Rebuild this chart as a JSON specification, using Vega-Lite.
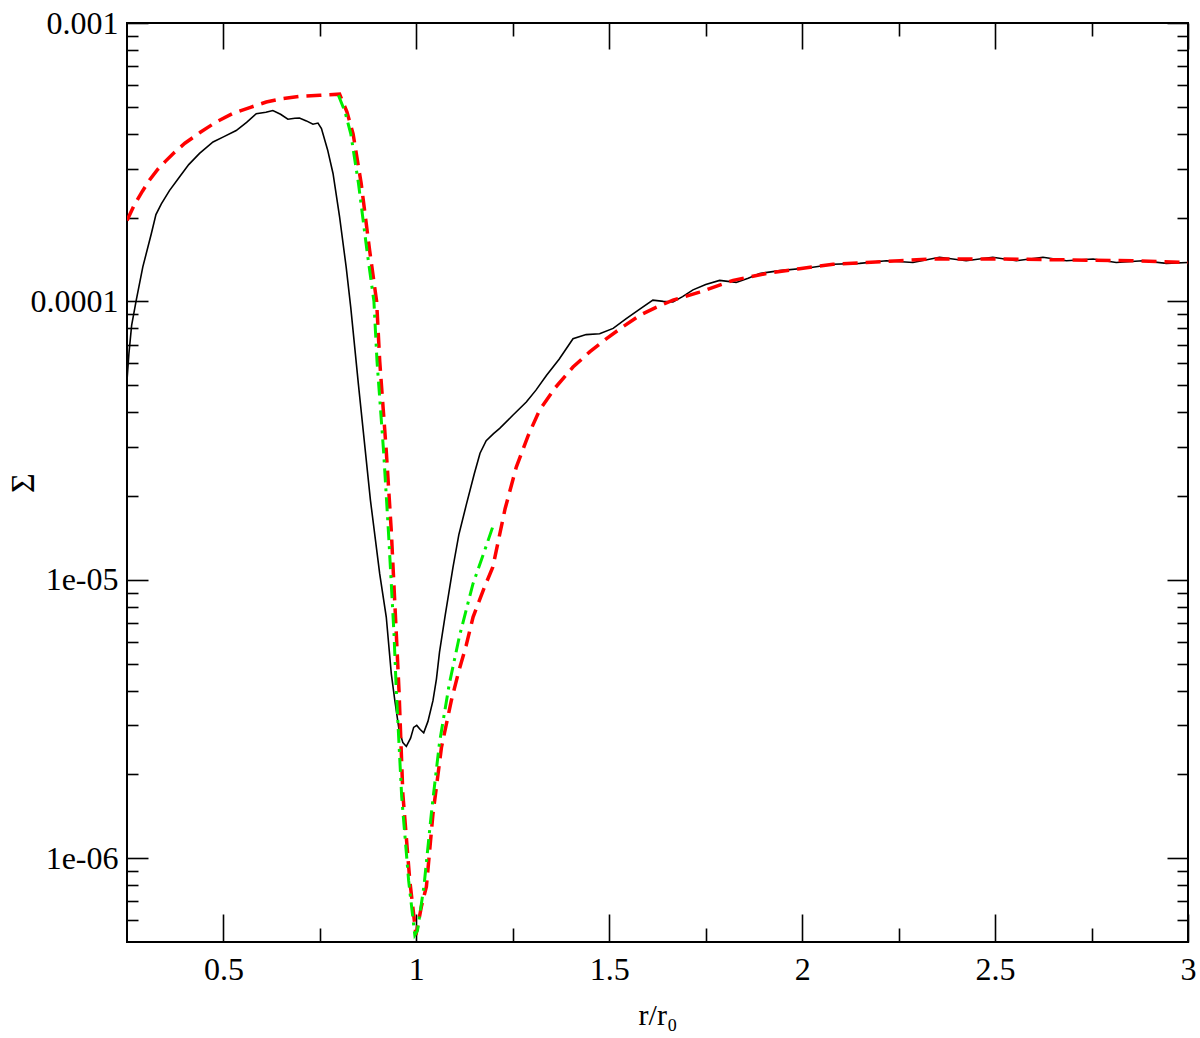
{
  "$schema": "https://vega.github.io/schema/vega-lite/v6.json",
  "width": 1061,
  "height": 919,
  "autosize": "none",
  "padding": {"left": 127, "top": 23, "right": 12, "bottom": 96},
  "background": "white",
  "datasets": {
    "black": [
      {"r":0.25,"s":5.2e-5},{"r":0.255,"s":6.5e-5},{"r":0.262,"s":8.2e-5},{"r":0.274,"s":1.01e-4},{"r":0.291,"s":1.33e-4},{"r":0.313,"s":1.75e-4},{"r":0.325,"s":2.05e-4},{"r":0.339,"s":2.24e-4},{"r":0.36,"s":2.5e-4},{"r":0.386,"s":2.8e-4},{"r":0.41,"s":3.1e-4},{"r":0.438,"s":3.4e-4},{"r":0.473,"s":3.74e-4},{"r":0.5,"s":3.9e-4},{"r":0.533,"s":4.11e-4},{"r":0.56,"s":4.4e-4},{"r":0.585,"s":4.72e-4},{"r":0.61,"s":4.78e-4},{"r":0.628,"s":4.85e-4},{"r":0.648,"s":4.7e-4},{"r":0.667,"s":4.51e-4},{"r":0.685,"s":4.55e-4},{"r":0.697,"s":4.56e-4},{"r":0.715,"s":4.45e-4},{"r":0.732,"s":4.33e-4},{"r":0.745,"s":4.37e-4},{"r":0.754,"s":4.18e-4},{"r":0.77,"s":3.5e-4},{"r":0.784,"s":2.88e-4},{"r":0.801,"s":2.01e-4},{"r":0.818,"s":1.33e-4},{"r":0.83,"s":9.5e-5},{"r":0.85,"s":5.0e-5},{"r":0.881,"s":1.93e-5},{"r":0.905,"s":1.05e-5},{"r":0.922,"s":7.35e-6},{"r":0.935,"s":4.6e-6},{"r":0.944,"s":3.7e-6},{"r":0.955,"s":2.9e-6},{"r":0.965,"s":2.6e-6},{"r":0.974,"s":2.52e-6},{"r":0.985,"s":2.7e-6},{"r":0.993,"s":2.95e-6},{"r":1.001,"s":3.0e-6},{"r":1.01,"s":2.9e-6},{"r":1.019,"s":2.82e-6},{"r":1.03,"s":3.1e-6},{"r":1.043,"s":3.68e-6},{"r":1.052,"s":4.4e-6},{"r":1.06,"s":5.5e-6},{"r":1.075,"s":7.5e-6},{"r":1.095,"s":1.11e-5},{"r":1.11,"s":1.45e-5},{"r":1.129,"s":1.85e-5},{"r":1.15,"s":2.4e-5},{"r":1.165,"s":2.85e-5},{"r":1.181,"s":3.16e-5},{"r":1.2,"s":3.35e-5},{"r":1.216,"s":3.5e-5},{"r":1.25,"s":3.9e-5},{"r":1.285,"s":4.35e-5},{"r":1.31,"s":4.8e-5},{"r":1.337,"s":5.42e-5},{"r":1.37,"s":6.2e-5},{"r":1.406,"s":7.34e-5},{"r":1.44,"s":7.6e-5},{"r":1.475,"s":7.65e-5},{"r":1.51,"s":8.0e-5},{"r":1.544,"s":8.67e-5},{"r":1.58,"s":9.4e-5},{"r":1.613,"s":1.01e-4},{"r":1.64,"s":1.0e-4},{"r":1.665,"s":9.95e-5},{"r":1.69,"s":1.04e-4},{"r":1.717,"s":1.10e-4},{"r":1.75,"s":1.15e-4},{"r":1.786,"s":1.19e-4},{"r":1.829,"s":1.17e-4},{"r":1.86,"s":1.21e-4},{"r":1.89,"s":1.26e-4},{"r":1.942,"s":1.29e-4},{"r":2.019,"s":1.32e-4},{"r":2.08,"s":1.36e-4},{"r":2.149,"s":1.37e-4},{"r":2.218,"s":1.40e-4},{"r":2.287,"s":1.38e-4},{"r":2.356,"s":1.44e-4},{"r":2.425,"s":1.40e-4},{"r":2.494,"s":1.44e-4},{"r":2.555,"s":1.40e-4},{"r":2.624,"s":1.44e-4},{"r":2.685,"s":1.40e-4},{"r":2.754,"s":1.42e-4},{"r":2.814,"s":1.38e-4},{"r":2.883,"s":1.40e-4},{"r":2.944,"s":1.37e-4},{"r":3.0,"s":1.38e-4}
    ],
    "red": [
      {"r":0.25,"s":1.954e-4},{"r":0.27,"s":2.234e-4},{"r":0.29,"s":2.488e-4},{"r":0.31,"s":2.748e-4},{"r":0.33,"s":2.985e-4},{"r":0.35,"s":3.19e-4},{"r":0.37,"s":3.40e-4},{"r":0.4,"s":3.70e-4},{"r":0.44,"s":4.05e-4},{"r":0.48,"s":4.40e-4},{"r":0.524,"s":4.73e-4},{"r":0.57,"s":4.98e-4},{"r":0.611,"s":5.20e-4},{"r":0.65,"s":5.34e-4},{"r":0.697,"s":5.45e-4},{"r":0.75,"s":5.5e-4},{"r":0.801,"s":5.55e-4},{"r":0.82,"s":4.8e-4},{"r":0.836,"s":4.0e-4},{"r":0.857,"s":2.65e-4},{"r":0.879,"s":1.52e-4},{"r":0.897,"s":1.0e-4},{"r":0.905,"s":6.1e-5},{"r":0.922,"s":2.9e-5},{"r":0.935,"s":1.5e-5},{"r":0.948,"s":6.4e-6},{"r":0.955,"s":4.0e-6},{"r":0.965,"s":1.7e-6},{"r":0.983,"s":8.3e-7},{"r":0.999,"s":5.3e-7},{"r":1.013,"s":6.7e-7},{"r":1.026,"s":7.9e-7},{"r":1.043,"s":1.44e-6},{"r":1.065,"s":2.5e-6},{"r":1.091,"s":3.7e-6},{"r":1.11,"s":4.7e-6},{"r":1.129,"s":5.8e-6},{"r":1.147,"s":7.35e-6},{"r":1.175,"s":9.3e-6},{"r":1.198,"s":1.11e-5},{"r":1.207,"s":1.27e-5},{"r":1.23,"s":1.8e-5},{"r":1.259,"s":2.54e-5},{"r":1.29,"s":3.3e-5},{"r":1.319,"s":4.06e-5},{"r":1.36,"s":4.9e-5},{"r":1.406,"s":5.81e-5},{"r":1.45,"s":6.6e-5},{"r":1.492,"s":7.34e-5},{"r":1.535,"s":8.1e-5},{"r":1.579,"s":8.91e-5},{"r":1.62,"s":9.5e-5},{"r":1.665,"s":1.01e-4},{"r":1.734,"s":1.08e-4},{"r":1.821,"s":1.19e-4},{"r":1.907,"s":1.26e-4},{"r":1.993,"s":1.31e-4},{"r":2.08,"s":1.36e-4},{"r":2.166,"s":1.38e-4},{"r":2.253,"s":1.40e-4},{"r":2.339,"s":1.42e-4},{"r":2.512,"s":1.42e-4},{"r":2.685,"s":1.41e-4},{"r":2.857,"s":1.40e-4},{"r":3.0,"s":1.38e-4}
    ],
    "green": [
      {"r":0.798,"s":5.5e-4},{"r":0.815,"s":4.8e-4},{"r":0.83,"s":4.0e-4},{"r":0.85,"s":2.65e-4},{"r":0.872,"s":1.52e-4},{"r":0.89,"s":1.0e-4},{"r":0.898,"s":6.1e-5},{"r":0.915,"s":2.9e-5},{"r":0.928,"s":1.46e-5},{"r":0.942,"s":6.4e-6},{"r":0.948,"s":4.0e-6},{"r":0.962,"s":1.66e-6},{"r":0.98,"s":8.3e-7},{"r":0.996,"s":5.3e-7},{"r":1.003,"s":5.5e-7},{"r":1.02,"s":8.0e-7},{"r":1.04,"s":1.5e-6},{"r":1.06,"s":2.6e-6},{"r":1.085,"s":4.2e-6},{"r":1.112,"s":6.3e-6},{"r":1.147,"s":9.7e-6},{"r":1.175,"s":1.25e-5},{"r":1.198,"s":1.55e-5}
    ]
  },
  "resolve": {"axis": {"x": "independent", "y": "independent"}},
  "layer": [
    {
      "data": {"name": "black"},
      "mark": {"type": "line", "color": "black", "strokeWidth": 1.6, "clip": true},
      "encoding": {
        "x": {
          "field": "r", "type": "quantitative",
          "scale": {"domain": [0.25, 3], "nice": false, "zero": false},
          "axis": {
            "orient": "bottom",
            "values": [0.5, 0.75, 1, 1.25, 1.5, 1.75, 2, 2.25, 2.5, 2.75, 3],
            "tickSize": {"condition": {"test": "abs(datum.value*2 - round(datum.value*2)) < 0.01", "value": -28}, "value": -14},
            "labelPadding": 40,
            "labelExpr": "abs(datum.value*2 - round(datum.value*2)) < 0.01 ? format(datum.value, '~g') : ''",
            "title": "r/r₀",
            "titlePadding": 1
          }
        },
        "y": {
          "field": "s", "type": "quantitative",
          "scale": {"type": "log", "domain": [5e-7, 0.001], "nice": false},
          "axis": {
            "orient": "left",
            "values": [6e-7, 7e-7, 8e-7, 9e-7, 1e-6, 2e-6, 3e-6, 4e-6, 5e-6, 6e-6, 7e-6, 8e-6, 9e-6, 1e-5, 2e-5, 3e-5, 4e-5, 5e-5, 6e-5, 7e-5, 8e-5, 9e-5, 1e-4, 2e-4, 3e-4, 4e-4, 5e-4, 6e-4, 7e-4, 8e-4, 9e-4, 1e-3],
            "tickSize": {"condition": {"test": "abs(log(datum.value)/LN10 - round(log(datum.value)/LN10)) < 0.01", "value": -21}, "value": -11},
            "labelPadding": 30,
            "labelExpr": "abs(log(datum.value)/LN10 - round(log(datum.value)/LN10)) < 0.01 ? (datum.value > 5e-4 ? '0.001' : datum.value > 5e-5 ? '0.0001' : datum.value > 5e-6 ? '1e-05' : '1e-06') : ''",
            "title": "Σ",
            "titleFontSize": 34,
            "titlePadding": -10
          }
        }
      }
    },
    {
      "data": {"name": "red"},
      "mark": {"type": "line", "color": "#ff0000", "strokeWidth": 3.5, "strokeDash": [15, 8], "clip": true},
      "encoding": {
        "x": {
          "field": "r", "type": "quantitative",
          "scale": {"domain": [0.25, 3], "nice": false, "zero": false},
          "axis": {
            "orient": "top",
            "values": [0.5, 0.75, 1, 1.25, 1.5, 1.75, 2, 2.25, 2.5, 2.75, 3],
            "tickSize": {"condition": {"test": "abs(datum.value*2 - round(datum.value*2)) < 0.01", "value": -26}, "value": -13},
            "labels": false,
            "title": null
          }
        },
        "y": {
          "field": "s", "type": "quantitative",
          "scale": {"type": "log", "domain": [5e-7, 0.001], "nice": false},
          "axis": {
            "orient": "right",
            "values": [6e-7, 7e-7, 8e-7, 9e-7, 1e-6, 2e-6, 3e-6, 4e-6, 5e-6, 6e-6, 7e-6, 8e-6, 9e-6, 1e-5, 2e-5, 3e-5, 4e-5, 5e-5, 6e-5, 7e-5, 8e-5, 9e-5, 1e-4, 2e-4, 3e-4, 4e-4, 5e-4, 6e-4, 7e-4, 8e-4, 9e-4, 1e-3],
            "tickSize": {"condition": {"test": "abs(log(datum.value)/LN10 - round(log(datum.value)/LN10)) < 0.01", "value": -21}, "value": -11},
            "labels": false,
            "title": null
          }
        }
      }
    },
    {
      "data": {"name": "green"},
      "mark": {"type": "line", "color": "#00ee00", "strokeWidth": 3, "strokeDash": [14, 6, 3, 6], "clip": true},
      "encoding": {
        "x": {"field": "r", "type": "quantitative", "scale": {"domain": [0.25, 3], "nice": false, "zero": false}, "axis": null},
        "y": {"field": "s", "type": "quantitative", "scale": {"type": "log", "domain": [5e-7, 0.001], "nice": false}, "axis": null}
      }
    }
  ],
  "config": {
    "view": {"stroke": "black", "strokeWidth": 2},
    "axis": {
      "domain": false,
      "grid": false,
      "tickColor": "black",
      "tickWidth": 1.6,
      "labelFont": "Liberation Serif",
      "labelFontSize": 32,
      "labelColor": "black",
      "labelOverlap": false,
      "labelFlush": false,
      "titleFont": "Liberation Serif",
      "titleFontSize": 30,
      "titleFontWeight": "normal",
      "titleColor": "black"
    }
  }
}
